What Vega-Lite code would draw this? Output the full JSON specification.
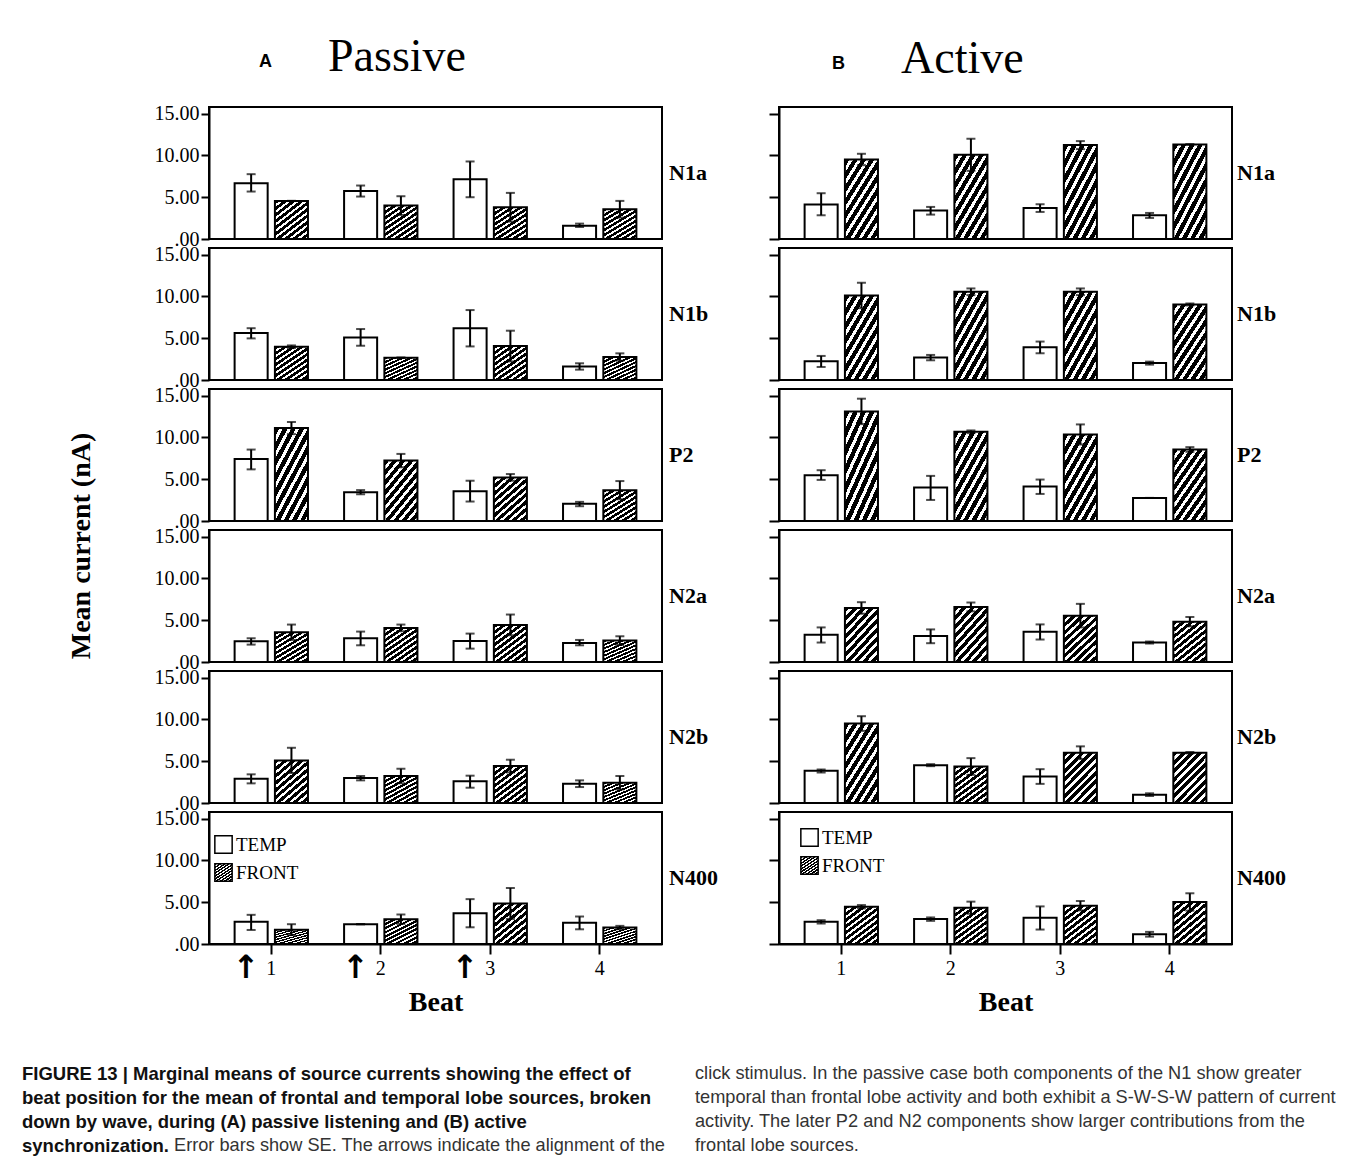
{
"$schema": "https://vega.github.io/schema/vega-lite/v6.json",
"background": "white",
"padding": {"left": 22, "top": 33, "right": 5, "bottom": 5},
"datasets": {
"bars": [
{"cond":"Passive","wave":"N1a","beat":1,"source":"TEMP","mean":6.68,"lo":5.68,"hi":7.76},
{"cond":"Passive","wave":"N1a","beat":1,"source":"FRONT","mean":4.56,"lo":4.56,"hi":4.56},
{"cond":"Passive","wave":"N1a","beat":2,"source":"TEMP","mean":5.76,"lo":5.08,"hi":6.40},
{"cond":"Passive","wave":"N1a","beat":2,"source":"FRONT","mean":4.00,"lo":2.88,"hi":5.12},
{"cond":"Passive","wave":"N1a","beat":3,"source":"TEMP","mean":7.16,"lo":5.00,"hi":9.28},
{"cond":"Passive","wave":"N1a","beat":3,"source":"FRONT","mean":3.80,"lo":2.08,"hi":5.52},
{"cond":"Passive","wave":"N1a","beat":4,"source":"TEMP","mean":1.60,"lo":1.44,"hi":1.84},
{"cond":"Passive","wave":"N1a","beat":4,"source":"FRONT","mean":3.56,"lo":2.56,"hi":4.56},
{"cond":"Passive","wave":"N1b","beat":1,"source":"TEMP","mean":5.62,"lo":4.98,"hi":6.20},
{"cond":"Passive","wave":"N1b","beat":1,"source":"FRONT","mean":3.98,"lo":3.82,"hi":4.14},
{"cond":"Passive","wave":"N1b","beat":2,"source":"TEMP","mean":5.10,"lo":4.10,"hi":6.10},
{"cond":"Passive","wave":"N1b","beat":2,"source":"FRONT","mean":2.67,"lo":2.67,"hi":2.67},
{"cond":"Passive","wave":"N1b","beat":3,"source":"TEMP","mean":6.20,"lo":4.02,"hi":8.37},
{"cond":"Passive","wave":"N1b","beat":3,"source":"FRONT","mean":4.06,"lo":2.22,"hi":5.90},
{"cond":"Passive","wave":"N1b","beat":4,"source":"TEMP","mean":1.63,"lo":1.24,"hi":2.00},
{"cond":"Passive","wave":"N1b","beat":4,"source":"FRONT","mean":2.75,"lo":2.31,"hi":3.19},
{"cond":"Passive","wave":"P2","beat":1,"source":"TEMP","mean":7.43,"lo":6.18,"hi":8.55},
{"cond":"Passive","wave":"P2","beat":1,"source":"FRONT","mean":11.12,"lo":10.40,"hi":11.85},
{"cond":"Passive","wave":"P2","beat":2,"source":"TEMP","mean":3.45,"lo":3.20,"hi":3.70},
{"cond":"Passive","wave":"P2","beat":2,"source":"FRONT","mean":7.23,"lo":6.43,"hi":8.03},
{"cond":"Passive","wave":"P2","beat":3,"source":"TEMP","mean":3.57,"lo":2.33,"hi":4.82},
{"cond":"Passive","wave":"P2","beat":3,"source":"FRONT","mean":5.22,"lo":4.82,"hi":5.62},
{"cond":"Passive","wave":"P2","beat":4,"source":"TEMP","mean":2.05,"lo":1.77,"hi":2.29},
{"cond":"Passive","wave":"P2","beat":4,"source":"FRONT","mean":3.69,"lo":2.60,"hi":4.78},
{"cond":"Passive","wave":"N2a","beat":1,"source":"TEMP","mean":2.48,"lo":2.08,"hi":2.84},
{"cond":"Passive","wave":"N2a","beat":1,"source":"FRONT","mean":3.56,"lo":2.64,"hi":4.48},
{"cond":"Passive","wave":"N2a","beat":2,"source":"TEMP","mean":2.84,"lo":2.00,"hi":3.64},
{"cond":"Passive","wave":"N2a","beat":2,"source":"FRONT","mean":4.08,"lo":3.68,"hi":4.48},
{"cond":"Passive","wave":"N2a","beat":3,"source":"TEMP","mean":2.52,"lo":1.60,"hi":3.40},
{"cond":"Passive","wave":"N2a","beat":3,"source":"FRONT","mean":4.44,"lo":3.20,"hi":5.68},
{"cond":"Passive","wave":"N2a","beat":4,"source":"TEMP","mean":2.28,"lo":2.00,"hi":2.64},
{"cond":"Passive","wave":"N2a","beat":4,"source":"FRONT","mean":2.56,"lo":2.04,"hi":3.08},
{"cond":"Passive","wave":"N2b","beat":1,"source":"TEMP","mean":2.91,"lo":2.35,"hi":3.43},
{"cond":"Passive","wave":"N2b","beat":1,"source":"FRONT","mean":5.10,"lo":3.59,"hi":6.61},
{"cond":"Passive","wave":"N2b","beat":2,"source":"TEMP","mean":2.99,"lo":2.71,"hi":3.23},
{"cond":"Passive","wave":"N2b","beat":2,"source":"FRONT","mean":3.23,"lo":2.36,"hi":4.10},
{"cond":"Passive","wave":"N2b","beat":3,"source":"TEMP","mean":2.59,"lo":1.83,"hi":3.27},
{"cond":"Passive","wave":"N2b","beat":3,"source":"FRONT","mean":4.42,"lo":3.66,"hi":5.18},
{"cond":"Passive","wave":"N2b","beat":4,"source":"TEMP","mean":2.31,"lo":1.91,"hi":2.71},
{"cond":"Passive","wave":"N2b","beat":4,"source":"FRONT","mean":2.43,"lo":1.63,"hi":3.23},
{"cond":"Passive","wave":"N400","beat":1,"source":"TEMP","mean":2.65,"lo":1.68,"hi":3.49},
{"cond":"Passive","wave":"N400","beat":1,"source":"FRONT","mean":1.72,"lo":1.07,"hi":2.37},
{"cond":"Passive","wave":"N400","beat":2,"source":"TEMP","mean":2.37,"lo":2.37,"hi":2.37},
{"cond":"Passive","wave":"N400","beat":2,"source":"FRONT","mean":2.97,"lo":2.41,"hi":3.53},
{"cond":"Passive","wave":"N400","beat":3,"source":"TEMP","mean":3.69,"lo":2.00,"hi":5.37},
{"cond":"Passive","wave":"N400","beat":3,"source":"FRONT","mean":4.85,"lo":3.00,"hi":6.70},
{"cond":"Passive","wave":"N400","beat":4,"source":"TEMP","mean":2.53,"lo":1.76,"hi":3.29},
{"cond":"Passive","wave":"N400","beat":4,"source":"FRONT","mean":1.97,"lo":1.77,"hi":2.17},
{"cond":"Passive","wave":"N400","beat":1,"source":"TEMP","arrow":"↑"},
{"cond":"Passive","wave":"N400","beat":2,"source":"TEMP","arrow":"↑"},
{"cond":"Passive","wave":"N400","beat":3,"source":"TEMP","arrow":"↑"},
{"cond":"Active","wave":"N1a","beat":1,"source":"TEMP","mean":4.12,"lo":2.84,"hi":5.48},
{"cond":"Active","wave":"N1a","beat":1,"source":"FRONT","mean":9.52,"lo":8.84,"hi":10.20},
{"cond":"Active","wave":"N1a","beat":2,"source":"TEMP","mean":3.40,"lo":2.92,"hi":3.84},
{"cond":"Active","wave":"N1a","beat":2,"source":"FRONT","mean":10.08,"lo":8.16,"hi":12.00},
{"cond":"Active","wave":"N1a","beat":3,"source":"TEMP","mean":3.72,"lo":3.24,"hi":4.16},
{"cond":"Active","wave":"N1a","beat":3,"source":"FRONT","mean":11.24,"lo":10.76,"hi":11.72},
{"cond":"Active","wave":"N1a","beat":4,"source":"TEMP","mean":2.84,"lo":2.52,"hi":3.12},
{"cond":"Active","wave":"N1a","beat":4,"source":"FRONT","mean":11.32,"lo":11.32,"hi":11.32},
{"cond":"Active","wave":"N1b","beat":1,"source":"TEMP","mean":2.24,"lo":1.56,"hi":2.88},
{"cond":"Active","wave":"N1b","beat":1,"source":"FRONT","mean":10.12,"lo":8.60,"hi":11.64},
{"cond":"Active","wave":"N1b","beat":2,"source":"TEMP","mean":2.68,"lo":2.36,"hi":3.00},
{"cond":"Active","wave":"N1b","beat":2,"source":"FRONT","mean":10.56,"lo":10.16,"hi":10.96},
{"cond":"Active","wave":"N1b","beat":3,"source":"TEMP","mean":3.92,"lo":3.20,"hi":4.60},
{"cond":"Active","wave":"N1b","beat":3,"source":"FRONT","mean":10.56,"lo":10.16,"hi":10.96},
{"cond":"Active","wave":"N1b","beat":4,"source":"TEMP","mean":2.04,"lo":1.84,"hi":2.20},
{"cond":"Active","wave":"N1b","beat":4,"source":"FRONT","mean":9.04,"lo":8.92,"hi":9.16},
{"cond":"Active","wave":"P2","beat":1,"source":"TEMP","mean":5.48,"lo":4.92,"hi":6.08},
{"cond":"Active","wave":"P2","beat":1,"source":"FRONT","mean":13.12,"lo":11.60,"hi":14.64},
{"cond":"Active","wave":"P2","beat":2,"source":"TEMP","mean":4.00,"lo":2.52,"hi":5.40},
{"cond":"Active","wave":"P2","beat":2,"source":"FRONT","mean":10.68,"lo":10.52,"hi":10.84},
{"cond":"Active","wave":"P2","beat":3,"source":"TEMP","mean":4.12,"lo":3.24,"hi":4.96},
{"cond":"Active","wave":"P2","beat":3,"source":"FRONT","mean":10.36,"lo":9.16,"hi":11.56},
{"cond":"Active","wave":"P2","beat":4,"source":"TEMP","mean":2.76,"lo":2.76,"hi":2.76},
{"cond":"Active","wave":"P2","beat":4,"source":"FRONT","mean":8.56,"lo":8.28,"hi":8.84},
{"cond":"Active","wave":"N2a","beat":1,"source":"TEMP","mean":3.26,"lo":2.33,"hi":4.14},
{"cond":"Active","wave":"N2a","beat":1,"source":"FRONT","mean":6.47,"lo":5.78,"hi":7.16},
{"cond":"Active","wave":"N2a","beat":2,"source":"TEMP","mean":3.10,"lo":2.25,"hi":3.90},
{"cond":"Active","wave":"N2a","beat":2,"source":"FRONT","mean":6.59,"lo":6.06,"hi":7.12},
{"cond":"Active","wave":"N2a","beat":3,"source":"TEMP","mean":3.62,"lo":2.69,"hi":4.50},
{"cond":"Active","wave":"N2a","beat":3,"source":"FRONT","mean":5.55,"lo":4.14,"hi":6.96},
{"cond":"Active","wave":"N2a","beat":4,"source":"TEMP","mean":2.33,"lo":2.21,"hi":2.45},
{"cond":"Active","wave":"N2a","beat":4,"source":"FRONT","mean":4.83,"lo":4.27,"hi":5.39},
{"cond":"Active","wave":"N2b","beat":1,"source":"TEMP","mean":3.85,"lo":3.65,"hi":4.01},
{"cond":"Active","wave":"N2b","beat":1,"source":"FRONT","mean":9.51,"lo":8.63,"hi":10.39},
{"cond":"Active","wave":"N2b","beat":2,"source":"TEMP","mean":4.53,"lo":4.41,"hi":4.65},
{"cond":"Active","wave":"N2b","beat":2,"source":"FRONT","mean":4.37,"lo":3.37,"hi":5.37},
{"cond":"Active","wave":"N2b","beat":3,"source":"TEMP","mean":3.17,"lo":2.29,"hi":4.05},
{"cond":"Active","wave":"N2b","beat":3,"source":"FRONT","mean":6.02,"lo":5.26,"hi":6.78},
{"cond":"Active","wave":"N2b","beat":4,"source":"TEMP","mean":1.00,"lo":0.84,"hi":1.16},
{"cond":"Active","wave":"N2b","beat":4,"source":"FRONT","mean":6.02,"lo":5.94,"hi":6.10},
{"cond":"Active","wave":"N400","beat":1,"source":"TEMP","mean":2.65,"lo":2.45,"hi":2.85},
{"cond":"Active","wave":"N400","beat":1,"source":"FRONT","mean":4.46,"lo":4.26,"hi":4.66},
{"cond":"Active","wave":"N400","beat":2,"source":"TEMP","mean":2.98,"lo":2.77,"hi":3.18},
{"cond":"Active","wave":"N400","beat":2,"source":"FRONT","mean":4.34,"lo":3.62,"hi":5.07},
{"cond":"Active","wave":"N400","beat":3,"source":"TEMP","mean":3.14,"lo":1.73,"hi":4.50},
{"cond":"Active","wave":"N400","beat":3,"source":"FRONT","mean":4.58,"lo":4.02,"hi":5.15},
{"cond":"Active","wave":"N400","beat":4,"source":"TEMP","mean":1.17,"lo":0.88,"hi":1.45},
{"cond":"Active","wave":"N400","beat":4,"source":"FRONT","mean":5.03,"lo":3.99,"hi":6.07}
],
"caption": [
{"col":"L","line":1,"seg":"b","text":"FIGURE 13 | Marginal means of source currents showing the effect of"},
{"col":"L","line":2,"seg":"b","text":"beat position for the mean of frontal and temporal lobe sources, broken"},
{"col":"L","line":3,"seg":"b","text":"down by wave, during (A) passive listening and (B) active"},
{"col":"L","line":4,"seg":"b","text":"synchronization."},
{"col":"L","line":4,"seg":"t","text":"Error bars show SE. The arrows indicate the alignment of the"},
{"col":"R","line":1,"seg":"r","text":"click stimulus. In the passive case both components of the N1 show greater"},
{"col":"R","line":2,"seg":"r","text":"temporal than frontal lobe activity and both exhibit a S-W-S-W pattern of current"},
{"col":"R","line":3,"seg":"r","text":"activity. The later P2 and N2 components show larger contributions from the"},
{"col":"R","line":4,"seg":"r","text":"frontal lobe sources."}
]
},
"vconcat": [
{
"hconcat": [
{
"data": {"name": "bars"},
"transform": [{"filter": "datum.cond === 'Passive'"}],
"title": {"text": "\u200b\u00a0\u00a0\u00a0\u00a0\u00a0\u00a0Passive", "subtitle": "A", "anchor": "start", "frame": "group", "dx": 50, "font": "Liberation Serif", "fontSize": 46, "fontWeight": "normal", "color": "black", "subtitleFont": "Liberation Sans", "subtitleFontSize": 18, "subtitleFontWeight": "bold", "subtitleColor": "black", "subtitlePadding": -28, "offset": 23},
"facet": {"row": {"field": "wave", "type": "nominal", "sort": ["N1a","N1b","P2","N2a","N2b","N400"],
  "header": {"title": "Mean current (nA)", "titleFont": "Liberation Serif", "titleFontWeight": "bold", "titleFontSize": 28, "titleColor": "black", "titlePadding": 48,
   "labelOrient": "right", "labelAngle": 0, "labelFont": "Liberation Serif", "labelFontWeight": "bold", "labelFontSize": 22, "labelColor": "black", "labelPadding": 7}}},
"spacing": 9,
"bounds": "flush",
"spec": {
"width": 453, "height": 132,
"layer": [
{"transform": [{"filter": "isValid(datum.mean)"}],
 "mark": {"type": "bar", "stroke": "black", "strokeWidth": 2},
 "encoding": {
  "x": {"field": "beat", "type": "ordinal", "scale": {"paddingInner": 0.33, "paddingOuter": 0.234}, "axis": {"title": "Beat", "titleFont": "Liberation Serif", "titleFontSize": 28, "titleFontWeight": "bold", "titlePadding": 10, "labelAngle": 0, "tickSize": 10, "labelPadding": 4}},
  "xOffset": {"field": "source", "type": "nominal", "sort": ["TEMP","FRONT"], "scale": {"paddingInner": 0.18, "paddingOuter": 0}},
  "y": {"field": "mean", "type": "quantitative", "title": null, "scale": {"domain": [0, 15.8], "nice": false}, "axis": {"values": [0,5,10,15], "labelExpr": "datum.value === 0 ? '.00' : format(datum.value, '.2f')", "tickSize": 8, "labelPadding": 2}},
  "fill": {"field": "source", "type": "nominal", "scale": {"domain": ["TEMP","FRONT"], "range": ["white", {"expr": "{gradient: 'linear', x1: 0, y1: 0, x2: 0.769, y2: 1.154, stops: [{offset: 0, color: '#000'}, {offset: 0.058, color: '#000'}, {offset: 0.058, color: '#fff'}, {offset: 0.1, color: '#fff'}, {offset: 0.1, color: '#000'}, {offset: 0.158, color: '#000'}, {offset: 0.158, color: '#fff'}, {offset: 0.2, color: '#fff'}, {offset: 0.2, color: '#000'}, {offset: 0.258, color: '#000'}, {offset: 0.258, color: '#fff'}, {offset: 0.3, color: '#fff'}, {offset: 0.3, color: '#000'}, {offset: 0.358, color: '#000'}, {offset: 0.358, color: '#fff'}, {offset: 0.4, color: '#fff'}, {offset: 0.4, color: '#000'}, {offset: 0.458, color: '#000'}, {offset: 0.458, color: '#fff'}, {offset: 0.5, color: '#fff'}, {offset: 0.5, color: '#000'}, {offset: 0.558, color: '#000'}, {offset: 0.558, color: '#fff'}, {offset: 0.6, color: '#fff'}, {offset: 0.6, color: '#000'}, {offset: 0.658, color: '#000'}, {offset: 0.658, color: '#fff'}, {offset: 0.7, color: '#fff'}, {offset: 0.7, color: '#000'}, {offset: 0.758, color: '#000'}, {offset: 0.758, color: '#fff'}, {offset: 0.8, color: '#fff'}, {offset: 0.8, color: '#000'}, {offset: 0.858, color: '#000'}, {offset: 0.858, color: '#fff'}, {offset: 0.9, color: '#fff'}, {offset: 0.9, color: '#000'}, {offset: 0.958, color: '#000'}, {offset: 0.958, color: '#fff'}, {offset: 1, color: '#fff'}]}"}]},
   "legend": {"orient": "none", "legendX": 5, "legendY": 728, "title": null, "symbolType": "square", "symbolSize": 300, "symbolStrokeColor": "black", "symbolStrokeWidth": 1.5, "labelFont": "Liberation Serif", "labelFontSize": 19, "labelColor": "black", "rowPadding": 3, "labelOffset": 3}}
 }},
{"transform": [{"filter": "isValid(datum.mean)"}],
 "mark": {"type": "rule", "color": "black", "strokeWidth": 2},
 "encoding": {
  "x": {"field": "beat", "type": "ordinal"},
  "xOffset": {"field": "source", "type": "nominal", "sort": ["TEMP","FRONT"]},
  "y": {"field": "lo", "type": "quantitative", "title": null},
  "y2": {"field": "hi"}
 }},
{"transform": [{"filter": "isValid(datum.mean)"}],
 "mark": {"type": "tick", "orient": "horizontal", "color": "black", "size": 9, "thickness": 2},
 "encoding": {
  "x": {"field": "beat", "type": "ordinal"},
  "xOffset": {"field": "source", "type": "nominal", "sort": ["TEMP","FRONT"]},
  "y": {"field": "lo", "type": "quantitative", "title": null}
 }},
{"transform": [{"filter": "isValid(datum.mean)"}],
 "mark": {"type": "tick", "orient": "horizontal", "color": "black", "size": 9, "thickness": 2},
 "encoding": {
  "x": {"field": "beat", "type": "ordinal"},
  "xOffset": {"field": "source", "type": "nominal", "sort": ["TEMP","FRONT"]},
  "y": {"field": "hi", "type": "quantitative", "title": null}
 }},
{"transform": [{"filter": "isValid(datum.arrow)"}],
 "mark": {"type": "text", "font": "DejaVu Sans", "fontSize": 32, "fontWeight": "bold", "baseline": "middle", "align": "center", "color": "black", "dx": -5},
 "encoding": {
  "x": {"field": "beat", "type": "ordinal"},
  "xOffset": {"field": "source", "type": "nominal", "sort": ["TEMP","FRONT"]},
  "y": {"datum": -2.9, "type": "quantitative"},
  "text": {"field": "arrow"}
 }}
]
}
},
{
"data": {"name": "bars"},
"transform": [{"filter": "datum.cond === 'Active'"}],
"title": {"text": "\u200b\u00a0\u00a0\u00a0\u00a0\u00a0\u00a0Active", "subtitle": "B", "anchor": "start", "frame": "group", "dx": 53, "font": "Liberation Serif", "fontSize": 46, "fontWeight": "normal", "color": "black", "subtitleFont": "Liberation Sans", "subtitleFontSize": 18, "subtitleFontWeight": "bold", "subtitleColor": "black", "subtitlePadding": -28, "offset": 23},
"facet": {"row": {"field": "wave", "type": "nominal", "sort": ["N1a","N1b","P2","N2a","N2b","N400"],
  "header": {"title": null, "labelOrient": "right", "labelAngle": 0, "labelFont": "Liberation Serif", "labelFontWeight": "bold", "labelFontSize": 22, "labelColor": "black", "labelPadding": 5}}},
"spacing": 9,
"bounds": "flush",
"spec": {
"width": 453, "height": 132,
"layer": [
{"transform": [{"filter": "isValid(datum.mean)"}],
 "mark": {"type": "bar", "stroke": "black", "strokeWidth": 2},
 "encoding": {
  "x": {"field": "beat", "type": "ordinal", "scale": {"paddingInner": 0.33, "paddingOuter": 0.234}, "axis": {"title": "Beat", "titleFont": "Liberation Serif", "titleFontSize": 28, "titleFontWeight": "bold", "titlePadding": 10, "labelAngle": 0, "tickSize": 10, "labelPadding": 4}},
  "xOffset": {"field": "source", "type": "nominal", "sort": ["TEMP","FRONT"], "scale": {"paddingInner": 0.18, "paddingOuter": 0}},
  "y": {"field": "mean", "type": "quantitative", "title": null, "scale": {"domain": [0, 15.8], "nice": false}, "axis": {"values": [0,5,10,15], "labels": false, "tickSize": 10}},
  "fill": {"field": "source", "type": "nominal", "scale": {"domain": ["TEMP","FRONT"], "range": ["white", {"expr": "{gradient: 'linear', x1: 0, y1: 0, x2: 0.769, y2: 1.154, stops: [{offset: 0, color: '#000'}, {offset: 0.058, color: '#000'}, {offset: 0.058, color: '#fff'}, {offset: 0.1, color: '#fff'}, {offset: 0.1, color: '#000'}, {offset: 0.158, color: '#000'}, {offset: 0.158, color: '#fff'}, {offset: 0.2, color: '#fff'}, {offset: 0.2, color: '#000'}, {offset: 0.258, color: '#000'}, {offset: 0.258, color: '#fff'}, {offset: 0.3, color: '#fff'}, {offset: 0.3, color: '#000'}, {offset: 0.358, color: '#000'}, {offset: 0.358, color: '#fff'}, {offset: 0.4, color: '#fff'}, {offset: 0.4, color: '#000'}, {offset: 0.458, color: '#000'}, {offset: 0.458, color: '#fff'}, {offset: 0.5, color: '#fff'}, {offset: 0.5, color: '#000'}, {offset: 0.558, color: '#000'}, {offset: 0.558, color: '#fff'}, {offset: 0.6, color: '#fff'}, {offset: 0.6, color: '#000'}, {offset: 0.658, color: '#000'}, {offset: 0.658, color: '#fff'}, {offset: 0.7, color: '#fff'}, {offset: 0.7, color: '#000'}, {offset: 0.758, color: '#000'}, {offset: 0.758, color: '#fff'}, {offset: 0.8, color: '#fff'}, {offset: 0.8, color: '#000'}, {offset: 0.858, color: '#000'}, {offset: 0.858, color: '#fff'}, {offset: 0.9, color: '#fff'}, {offset: 0.9, color: '#000'}, {offset: 0.958, color: '#000'}, {offset: 0.958, color: '#fff'}, {offset: 1, color: '#fff'}]}"}]},
   "legend": {"orient": "none", "legendX": 21, "legendY": 721, "title": null, "symbolType": "square", "symbolSize": 300, "symbolStrokeColor": "black", "symbolStrokeWidth": 1.5, "labelFont": "Liberation Serif", "labelFontSize": 19, "labelColor": "black", "rowPadding": 3, "labelOffset": 3}}
 }},
{"transform": [{"filter": "isValid(datum.mean)"}],
 "mark": {"type": "rule", "color": "black", "strokeWidth": 2},
 "encoding": {
  "x": {"field": "beat", "type": "ordinal"},
  "xOffset": {"field": "source", "type": "nominal", "sort": ["TEMP","FRONT"]},
  "y": {"field": "lo", "type": "quantitative", "title": null},
  "y2": {"field": "hi"}
 }},
{"transform": [{"filter": "isValid(datum.mean)"}],
 "mark": {"type": "tick", "orient": "horizontal", "color": "black", "size": 9, "thickness": 2},
 "encoding": {
  "x": {"field": "beat", "type": "ordinal"},
  "xOffset": {"field": "source", "type": "nominal", "sort": ["TEMP","FRONT"]},
  "y": {"field": "lo", "type": "quantitative", "title": null}
 }},
{"transform": [{"filter": "isValid(datum.mean)"}],
 "mark": {"type": "tick", "orient": "horizontal", "color": "black", "size": 9, "thickness": 2},
 "encoding": {
  "x": {"field": "beat", "type": "ordinal"},
  "xOffset": {"field": "source", "type": "nominal", "sort": ["TEMP","FRONT"]},
  "y": {"field": "hi", "type": "quantitative", "title": null}
 }}
]
}
}
],
"spacing": 50,
"resolve": {"scale": {"fill": "independent"}, "legend": {"fill": "independent"}}
},
{
"data": {"name": "caption"},
"width": 673, "height": 72,
"view": {"stroke": null},
"layer": [
{"transform": [{"filter": "datum.seg === 'b'"}],
 "mark": {"type": "text", "align": "left", "baseline": "middle", "font": "Liberation Sans", "fontSize": 18.5, "fontWeight": "bold", "color": "#111"},
 "encoding": {
  "x": {"field": "col", "type": "nominal", "scale": {"type": "point", "domain": ["L","R"], "range": [-187, 486], "padding": 0}, "axis": null},
  "y": {"field": "line", "type": "ordinal", "scale": {"type": "point", "padding": 0}, "axis": null},
  "text": {"field": "text"}
 }},
{"transform": [{"filter": "datum.seg === 'r'"}],
 "mark": {"type": "text", "align": "left", "baseline": "middle", "font": "Liberation Sans", "fontSize": 18.2, "fontWeight": "normal", "color": "#333"},
 "encoding": {
  "x": {"field": "col", "type": "nominal", "scale": {"type": "point", "domain": ["L","R"], "range": [-187, 486], "padding": 0}, "axis": null},
  "y": {"field": "line", "type": "ordinal", "scale": {"type": "point", "padding": 0}, "axis": null},
  "text": {"field": "text"}
 }},
{"transform": [{"filter": "datum.seg === 't'"}],
 "mark": {"type": "text", "align": "left", "baseline": "middle", "font": "Liberation Sans", "fontSize": 18.2, "fontWeight": "normal", "color": "#333", "dx": 152},
 "encoding": {
  "x": {"field": "col", "type": "nominal", "scale": {"type": "point", "domain": ["L","R"], "range": [-187, 486], "padding": 0}, "axis": null},
  "y": {"field": "line", "type": "ordinal", "scale": {"type": "point", "padding": 0}, "axis": null},
  "text": {"field": "text"}
 }}
]
}
],
"spacing": 48,
"config": {
 "view": {"stroke": "black", "strokeWidth": 2},
 "font": "Liberation Serif",
 "axis": {"domainColor": "black", "domainWidth": 2, "tickColor": "black", "tickWidth": 2, "labelColor": "black", "labelFont": "Liberation Serif", "labelFontSize": 20, "grid": false, "titleColor": "black"}
}
}
